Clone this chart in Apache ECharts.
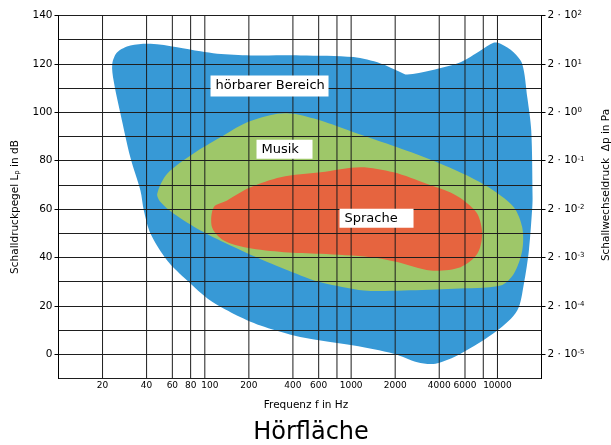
<!DOCTYPE html>
<html>
<head>
<meta charset="utf-8">
<title>Hörfläche</title>
<script src="https://cdn.jsdelivr.net/npm/echarts@6/dist/echarts.min.js"></script>
<style>
  html, body { margin: 0; padding: 0; background: #fff; }
  #chart { width: 611px; height: 445px; }
</style>
</head>
<body>
<div id="chart"></div>
<script>
// Axis ranges: frequency (log) and sound pressure level
const FREQ_MIN = 10, FREQ_MAX = 20000;
const LEVEL_MIN = -10, LEVEL_MAX = 140;

// Frequency grid lines and the ones that carry a label
const xGridFreqs = [20, 40, 60, 80, 100, 200, 400, 600, 800, 1000, 2000, 4000, 6000, 8000, 10000];
const xTickLabels = [20, 40, 60, 80, 100, 200, 400, 600, 1000, 2000, 4000, 6000, 10000];

// Labelled level ticks (dB) and the matching pressure exponents (2 · 10^n Pa)
const levelTicks = [0, 20, 40, 60, 80, 100, 120, 140];
const pressureExponents = [-5, -4, -3, -2, -1, 0, 1, 2];

// Outlines [frequency in Hz, level in dB]
const hearingArea = [
  [23.3, 120.0], [25.2, 124.8], [31.0, 127.6], [42.6, 128.3], [64.7, 126.9],
  [93.5, 125.2], [121.6, 124.2], [205, 123.5], [451, 123.5], [1038, 122.8],
  [1588, 120.2], [2177, 116.6], [2417, 115.6], [3487, 117.3], [5598, 120.7],
  [7664, 125.5], [9398, 128.7], [10497, 128.3], [12881, 124.8], [14770, 120.0],
  [15990, 106.2], [17020, 92.5], [17380, 64.9], [17300, 60.8], [16400, 42.9],
  [15150, 29.1], [13650, 18.1], [9980, 9.8], [5598, 0.2], [3775, -3.9],
  [2832, -3.3], [1959, 0.2], [1043, 3.6], [618, 5.7], [406, 7.8],
  [240, 11.9], [158, 16.7], [109, 22.2], [75.8, 30.5], [55.3, 38.8],
  [42.6, 49.8], [38.3, 59.4], [36.3, 67.7], [31.0, 81.3], [26.5, 99.5],
  [23.8, 113.1]
];

const musicArea = [
  [47.3, 66.3], [55.3, 74.6], [83.7, 83.0], [128, 89.7], [195, 95.9],
  [313, 99.4], [404, 99.4], [618, 96.6], [1038, 91.8], [2065, 85.6],
  [3875, 79.4], [6546, 73.2], [9398, 67.7], [12940, 60.8], [14770, 52.5],
  [14770, 42.9], [12940, 33.3], [10497, 28.4], [5035, 27.1], [2291, 26.4],
  [1222, 26.4], [618, 29.8], [451, 32.6], [267, 38.1], [158, 44.3],
  [93.5, 51.2], [61.4, 58.1], [49.8, 62.9]
];

const speechArea = [
  [115, 60.8], [142, 63.6], [205, 69.0], [330, 73.2], [618, 75.2],
  [1159, 77.3], [1950, 75.2], [3311, 70.4], [4780, 66.9], [5890, 63.6],
  [7280, 58.1], [7870, 49.8], [7280, 41.5], [5598, 36.0], [3487, 34.6],
  [2065, 38.1], [1358, 40.1], [618, 41.5], [347, 42.2], [195, 44.0],
  [135, 47.0], [112, 52.5]
];

// Region names, anchored at the left edge of their text box
const regionLabels = [
  { text: 'hörbarer Bereich', freq: 109.4, level: 110.9 },
  { text: 'Musik', freq: 225.6, level: 84.7 },
  { text: 'Sprache', freq: 833, level: 56.2 }
];

const FONT = '"DejaVu Sans", sans-serif';
const GRID_COLOR = '#1e1e1e';
const boxStyle = {
  'hörbarer Bereich': { w: 118, h: 21 },
  'Musik': { w: 56, h: 19 },
  'Sprache': { w: 74, h: 19 }
};
// small horizontal nudge (px) for crowded frequency labels
const tickLabelNudge = { 100: 5 };

function areaSeries(name, points, color) {
  return {
    type: 'custom',
    name: name,
    coordinateSystem: 'cartesian2d',
    silent: true,
    z: 1,
    data: points,
    renderItem: function (params, api) {
      if (params.dataIndex !== 0) return null;
      return {
        type: 'polygon',
        shape: { points: points.map(function (p) { return api.coord(p); }), smooth: 0.3 },
        style: { fill: color }
      };
    }
  };
}

const chart = echarts.init(document.getElementById('chart'), null, { renderer: 'canvas' });

chart.setOption({
  animation: false,
  backgroundColor: '#fff',
  textStyle: { fontFamily: FONT },
  grid: {
    left: 58.5, right: 69.5, top: 15.5, bottom: 66.5,
    show: true, borderColor: '#000', borderWidth: 1, backgroundColor: 'transparent'
  },
  xAxis: {
    type: 'log', logBase: 10, min: FREQ_MIN, max: FREQ_MAX,
    axisLine: { show: false }, axisTick: { show: false },
    axisLabel: { show: false }, splitLine: { show: false }
  },
  yAxis: [
    {
      // grid lines every 10 dB, drawn over the filled areas
      type: 'value', min: LEVEL_MIN, max: LEVEL_MAX, interval: 10, z: 3,
      axisLine: { show: false }, axisTick: { show: false }, axisLabel: { show: false },
      splitLine: { show: true, lineStyle: { color: GRID_COLOR, width: 1 } }
    },
    {
      type: 'value', position: 'left', min: LEVEL_MIN, max: LEVEL_MAX, z: 4,
      axisLine: { show: true, lineStyle: { color: '#000', width: 1 } },
      axisTick: { show: true, length: 4, customValues: levelTicks, lineStyle: { color: '#000' } },
      axisLabel: { customValues: levelTicks, color: '#000', fontSize: 10.5, fontFamily: FONT, margin: 6 },
      splitLine: { show: false }
    },
    {
      type: 'value', position: 'right', min: LEVEL_MIN, max: LEVEL_MAX, z: 4,
      axisLine: { show: true, lineStyle: { color: '#000', width: 1 } },
      axisTick: { show: true, length: 4, customValues: levelTicks, lineStyle: { color: '#000' } },
      axisLabel: {
        customValues: levelTicks, color: '#000', fontSize: 10.5, fontFamily: FONT, margin: 6,
        formatter: function (v) {
          const i = levelTicks.indexOf(v);
          return '2 · 10{sup|' + pressureExponents[i] + '}';
        },
        rich: { sup: { fontSize: 7, verticalAlign: 'top', fontFamily: FONT, color: '#000' } }
      },
      splitLine: { show: false }
    }
  ],
  graphic: [
    {
      type: 'text', x: 306, y: 405,
      style: { text: 'Frequenz f in Hz', font: '10.5px ' + FONT, fill: '#000', align: 'center', verticalAlign: 'middle' }
    },
    {
      type: 'text', x: 15, y: 207, rotation: Math.PI / 2,
      style: {
        text: 'Schalldruckpegel L{sub|p} in dB', font: '10.5px ' + FONT, fill: '#000',
        align: 'center', verticalAlign: 'middle',
        rich: { sub: { fontSize: 7, verticalAlign: 'bottom', fontFamily: FONT, fill: '#000', padding: [4, 0, 0, 0] } }
      }
    },
    {
      type: 'text', x: 606, y: 185, rotation: Math.PI / 2,
      style: { text: 'Schallwechseldruck  Δp in Pa', font: '10.5px ' + FONT, fill: '#000', align: 'center', verticalAlign: 'middle' }
    },
    {
      type: 'text', x: 311, y: 433,
      style: { text: 'Hörfläche', font: '24px ' + FONT, fill: '#000', align: 'center', verticalAlign: 'middle' }
    }
  ],
  series: [
    areaSeries('hörbarer Bereich', hearingArea, '#3799d6'),
    areaSeries('Musik', musicArea, '#9ec769'),
    areaSeries('Sprache', speechArea, '#e6643f'),
    {
      // vertical frequency grid lines
      type: 'custom', coordinateSystem: 'cartesian2d', silent: true, z: 3,
      data: xGridFreqs.map(function (f) { return [f, LEVEL_MIN]; }),
      renderItem: function (params, api) {
        const f = api.value(0);
        const a = api.coord([f, LEVEL_MIN]);
        const b = api.coord([f, LEVEL_MAX]);
        return {
          type: 'line',
          shape: { x1: a[0], y1: a[1], x2: b[0], y2: b[1] },
          style: { stroke: GRID_COLOR, lineWidth: 1 }
        };
      }
    },
    {
      // frequency tick labels below the plot
      type: 'custom', coordinateSystem: 'cartesian2d', silent: true, clip: false, z: 4,
      data: xTickLabels.map(function (f) { return [f, LEVEL_MIN]; }),
      renderItem: function (params, api) {
        const f = api.value(0);
        const p = api.coord([f, LEVEL_MIN]);
        return {
          type: 'text', x: p[0] + (tickLabelNudge[f] || 0), y: p[1] + 2.5,
          style: { text: String(f), font: '9px ' + FONT, fill: '#000', align: 'center', verticalAlign: 'top' }
        };
      }
    },
    {
      // region names in white boxes
      type: 'custom', coordinateSystem: 'cartesian2d', silent: true, z: 6,
      data: regionLabels.map(function (l) { return [l.freq, l.level]; }),
      renderItem: function (params, api) {
        const lab = regionLabels[params.dataIndex];
        const box = boxStyle[lab.text];
        const p = api.coord([api.value(0), api.value(1)]);
        return {
          type: 'group',
          children: [
            { type: 'rect', shape: { x: p[0], y: p[1] - box.h / 2, width: box.w, height: box.h }, style: { fill: '#fff' } },
            { type: 'text', x: p[0] + 5, y: p[1], style: { text: lab.text, font: '13px ' + FONT, fill: '#000', align: 'left', verticalAlign: 'middle' } }
          ]
        };
      }
    }
  ]
});
</script>
</body>
</html>
